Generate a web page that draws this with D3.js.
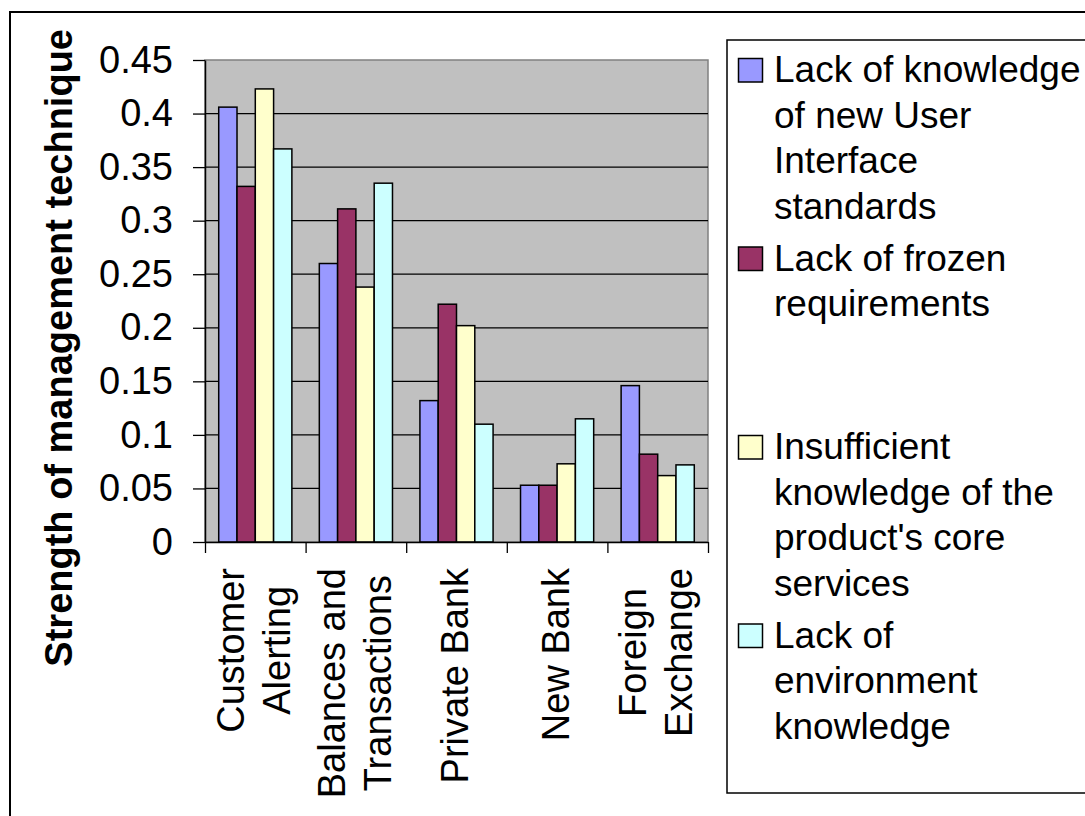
<!DOCTYPE html>
<html>
<head>
<meta charset="utf-8">
<script src="https://cdn.jsdelivr.net/npm/d3@7"></script>
<style>
  body { margin: 0; background: #fff; }
  svg { display: block; }
  text { font-family: "Liberation Sans", Arial, sans-serif; fill: #000; }
</style>
</head>
<body>
<svg id="chart" width="1085" height="816"></svg>
<script>
// Project areas on the x axis, each broken into display lines
const categories = ["Customer Alerting", "Balances and Transactions", "Private Bank", "New Bank", "Foreign Exchange"];
const categoryLines = [["Customer", "Alerting"], ["Balances and", "Transactions"], ["Private Bank"], ["New Bank"], ["Foreign", "Exchange"]];

// Risk factors (series) and their wrapped legend text
const seriesNames = [
  "Lack of knowledge of new User Interface standards",
  "Lack of frozen requirements",
  "Insufficient knowledge of the product's core services",
  "Lack of environment knowledge"
];
const seriesLegendLines = [
  ["Lack of knowledge", "of new User", "Interface", "standards"],
  ["Lack of frozen", "requirements"],
  ["Insufficient", "knowledge of the", "product's core", "services"],
  ["Lack of", "environment", "knowledge"]
];

// Strength of management technique per area, one array per series
const uiStandards  = [0.406, 0.260, 0.132, 0.053, 0.146];
const frozenReqs   = [0.332, 0.311, 0.222, 0.053, 0.082];
const coreServices = [0.423, 0.238, 0.202, 0.073, 0.062];
const environment  = [0.367, 0.335, 0.110, 0.115, 0.072];
const seriesValues = [uiStandards, frozenReqs, coreServices, environment];

const yTicks = [0, 0.05, 0.1, 0.15, 0.2, 0.25, 0.3, 0.35, 0.4, 0.45];
const yTitle = "Strength of management technique";
const colors = ["#9999FF", "#993366", "#FFFFCC", "#CCFFFF"];

const svg = d3.select("#chart");
const plot = { left: 205, right: 708, top: 60, bottom: 542 };

// Chart frame
svg.append("rect")
  .attr("x", 10).attr("y", 12).attr("width", 1200).attr("height", 900)
  .attr("fill", "#fff").attr("stroke", "#000").attr("stroke-width", 2);

const y = d3.scaleLinear().domain([0, 0.45]).range([plot.bottom, plot.top]);
const x = d3.scaleBand().domain(categories).range([plot.left, plot.right]).padding(0);
const barW = x.bandwidth() / (seriesValues.length + 1.5);
const xs = d3.scaleBand().domain(d3.range(seriesValues.length))
  .range([0.75 * barW, 0.75 * barW + seriesValues.length * barW]).padding(0);

// Plot area background
svg.append("rect")
  .attr("x", plot.left).attr("y", plot.top)
  .attr("width", plot.right - plot.left).attr("height", plot.bottom - plot.top)
  .attr("fill", "#C0C0C0").attr("stroke", "#808080").attr("stroke-width", 1.5);

// Horizontal gridlines
svg.append("g").selectAll("line")
  .data(yTicks.filter(t => t > 0 && t < 0.45))
  .join("line")
  .attr("x1", plot.left).attr("x2", plot.right)
  .attr("y1", d => y(d)).attr("y2", d => y(d))
  .attr("stroke", "#000").attr("stroke-width", 1.3);

// Bars
const rows = categories.flatMap((c, ci) => seriesValues.map((vals, si) => ({ c, si, v: vals[ci] })));
svg.append("g").selectAll("rect")
  .data(rows)
  .join("rect")
  .attr("x", d => x(d.c) + xs(d.si))
  .attr("y", d => y(d.v))
  .attr("width", xs.bandwidth())
  .attr("height", d => y(0) - y(d.v))
  .attr("fill", d => colors[d.si])
  .attr("stroke", "#000").attr("stroke-width", 1.5);

// Y axis
const yAxis = svg.append("g")
  .attr("transform", `translate(${plot.left},0)`)
  .call(d3.axisLeft(y).tickValues(yTicks).tickFormat(d3.format("")).tickSize(12).tickSizeOuter(0).tickPadding(20));
yAxis.select(".domain").attr("stroke", "#000").attr("stroke-width", 1.5);
yAxis.selectAll(".tick line").attr("stroke", "#000").attr("stroke-width", 1.3);
yAxis.selectAll(".tick text")
  .attr("font-size", 38).attr("font-family", "Liberation Sans, Arial, sans-serif").attr("fill", "#000");

// X axis: ticks on category boundaries
const xBound = d3.scaleLinear().domain([0, categories.length]).range([plot.left, plot.right]);
const xAxis = svg.append("g")
  .attr("transform", `translate(0,${plot.bottom})`)
  .call(d3.axisBottom(xBound).tickValues(d3.range(categories.length + 1)).tickFormat("").tickSize(11).tickSizeOuter(0));
xAxis.select(".domain").attr("stroke", "#000").attr("stroke-width", 1.5);
xAxis.selectAll(".tick line").attr("stroke", "#000").attr("stroke-width", 1.3);

// Category labels: rotated, top-aligned block, each line centred
const labelTop = 568, lineH = 46, labelSize = 38;
categoryLines.forEach((lines, ci) => {
  const cx = x(categories[ci]) + x.bandwidth() / 2;
  const g = svg.append("g");
  const texts = lines.map((ln, li) => {
    const bx = cx + (li - (lines.length - 1) / 2) * lineH + 0.31 * labelSize;
    return g.append("text")
      .attr("font-size", labelSize)
      .attr("text-anchor", "middle")
      .attr("data-bx", bx)
      .text(ln);
  });
  const maxLen = d3.max(texts, t => t.node().getComputedTextLength());
  texts.forEach(t => {
    const bx = +t.attr("data-bx");
    const cy = labelTop + maxLen / 2;
    t.attr("transform", `translate(${bx},${cy}) rotate(-90)`);
  });
});

// Y axis title, held against the top of the frame
svg.append("text")
  .attr("transform", "translate(72,29) rotate(-90)")
  .attr("text-anchor", "end")
  .attr("font-size", 38).attr("font-weight", "bold")
  .text(yTitle);

// Legend
const legend = svg.append("g");
legend.append("rect")
  .attr("x", 727).attr("y", 40).attr("width", 500).attr("height", 753)
  .attr("fill", "#fff").attr("stroke", "#000").attr("stroke-width", 1.5);
const entryH = 188.5, legLineH = 45.5, firstBase = 82;
seriesLegendLines.forEach((lines, si) => {
  const base = firstBase + si * entryH;
  legend.append("rect")
    .attr("x", 738.5).attr("y", base - 23.5)
    .attr("width", 24).attr("height", 23.5)
    .attr("fill", colors[si]).attr("stroke", "#000").attr("stroke-width", 1.5);
  lines.forEach((ln, li) => {
    legend.append("text")
      .attr("x", 774).attr("y", base + li * legLineH)
      .attr("font-size", 37)
      .text(ln);
  });
});
</script>
</body>
</html>
